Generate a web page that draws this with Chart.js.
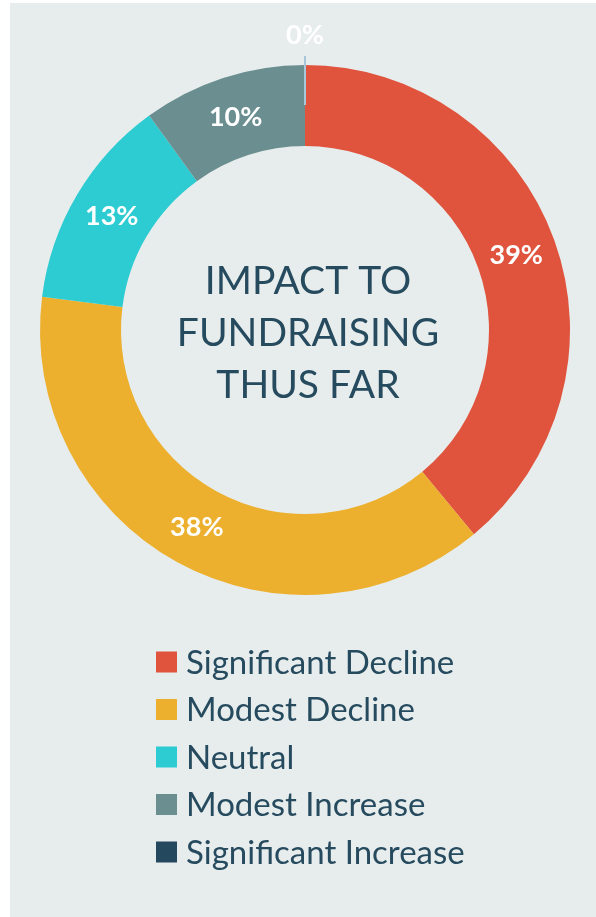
<!DOCTYPE html>
<html>
<head>
<meta charset="utf-8">
<script src="https://cdn.jsdelivr.net/npm/chart.js@4.4.1/dist/chart.umd.min.js"></script>
<style>
  html, body { margin: 0; padding: 0; background: #ffffff; }
  #wrap { position: relative; width: 596px; height: 917px; }
  canvas { display: block; }
</style>
</head>
<body>
<div id="wrap"><canvas id="c" width="596" height="917"></canvas></div>
<script>
const categories = ["Significant Decline", "Modest Decline", "Neutral", "Modest Increase", "Significant Increase"];
const shareValues = [39, 38, 13, 10, 0];
const sliceColors = ["#e0533d", "#ecb02e", "#2dcbd2", "#6b8e91", "#24495e"];
const centerTitleLines = ["IMPACT TO", "FUNDRAISING", "THUS FAR"];

const TEXT_COLOR = "#264a5e";
const PANEL_COLOR = "#e7eded";

const panelBg = {
  id: "panelBg",
  beforeDraw(chart) {
    const ctx = chart.ctx;
    ctx.save();
    ctx.fillStyle = "#ffffff";
    ctx.fillRect(0, 0, chart.width, chart.height);
    ctx.fillStyle = PANEL_COLOR;
    ctx.fillRect(10, 3, chart.width - 10, chart.height - 3);
    ctx.restore();
  }
};

const sliceLabels = {
  id: "sliceLabels",
  afterDatasetsDraw(chart) {
    const ctx = chart.ctx;
    const meta = chart.getDatasetMeta(0);
    ctx.save();
    ctx.textAlign = "center";
    ctx.textBaseline = "middle";
    ctx.font = "bold 27px Lato";
    meta.data.forEach((arc, i) => {
      const v = shareValues[i];
      const p = arc.getProps(["x", "y", "startAngle", "endAngle", "innerRadius", "outerRadius"], true);
      const mid = (p.startAngle + p.endAngle) / 2;
      let r;
      if (v === 0) {
        ctx.strokeStyle = "#a8c8da";
        ctx.lineWidth = 2;
        ctx.beginPath();
        ctx.moveTo(p.x + Math.cos(mid) * (p.outerRadius + 9), p.y + Math.sin(mid) * (p.outerRadius + 9));
        ctx.lineTo(p.x + Math.cos(mid) * (p.outerRadius - 40), p.y + Math.sin(mid) * (p.outerRadius - 40));
        ctx.stroke();
        r = p.outerRadius + 31;
      } else {
        r = (p.innerRadius + p.outerRadius) / 2;
      }
      ctx.fillStyle = "#ffffff";
      ctx.fillText(v + "%", p.x + Math.cos(mid) * r, p.y + Math.sin(mid) * r + 1);
    });
    ctx.restore();
  }
};

const centerTitle = {
  id: "centerTitle",
  afterDraw(chart) {
    const ctx = chart.ctx;
    const meta = chart.getDatasetMeta(0);
    const arc = meta.data[0];
    const cx = arc.x, cy = arc.y;
    ctx.save();
    ctx.fillStyle = TEXT_COLOR;
    ctx.textAlign = "center";
    ctx.textBaseline = "middle";
    ctx.font = "400 39px Lato";
    const lh = 52;
    centerTitleLines.forEach((t, i) => {
      ctx.fillText(t, cx + 3, cy + (i - 1) * lh + 3);
    });
    ctx.restore();
  }
};

const listLegend = {
  id: "listLegend",
  afterDraw(chart) {
    const ctx = chart.ctx;
    const items = chart.options.plugins.legend.labels.generateLabels(chart);
    const x0 = 156, y0 = 662, step = 47.5, box = 21;
    ctx.save();
    ctx.textAlign = "left";
    ctx.textBaseline = "middle";
    ctx.font = "400 33px Lato";
    items.forEach((it, i) => {
      const y = y0 + i * step;
      ctx.fillStyle = it.fillStyle;
      ctx.fillRect(x0, y - box / 2, box, box);
      ctx.fillStyle = TEXT_COLOR;
      ctx.fillText(it.text, x0 + 30, y + 1);
    });
    ctx.restore();
  }
};

new Chart(document.getElementById("c"), {
  type: "doughnut",
  data: {
    labels: categories,
    datasets: [{
      data: shareValues,
      backgroundColor: sliceColors,
      borderWidth: 0
    }]
  },
  options: {
    responsive: false,
    animation: false,
    cutout: 184,
    layout: { padding: { left: 40, right: 26, top: 65, bottom: 322 } },
    plugins: {
      legend: { display: false },
      tooltip: { enabled: false }
    }
  },
  plugins: [panelBg, sliceLabels, centerTitle, listLegend]
});
</script>
</body>
</html>
